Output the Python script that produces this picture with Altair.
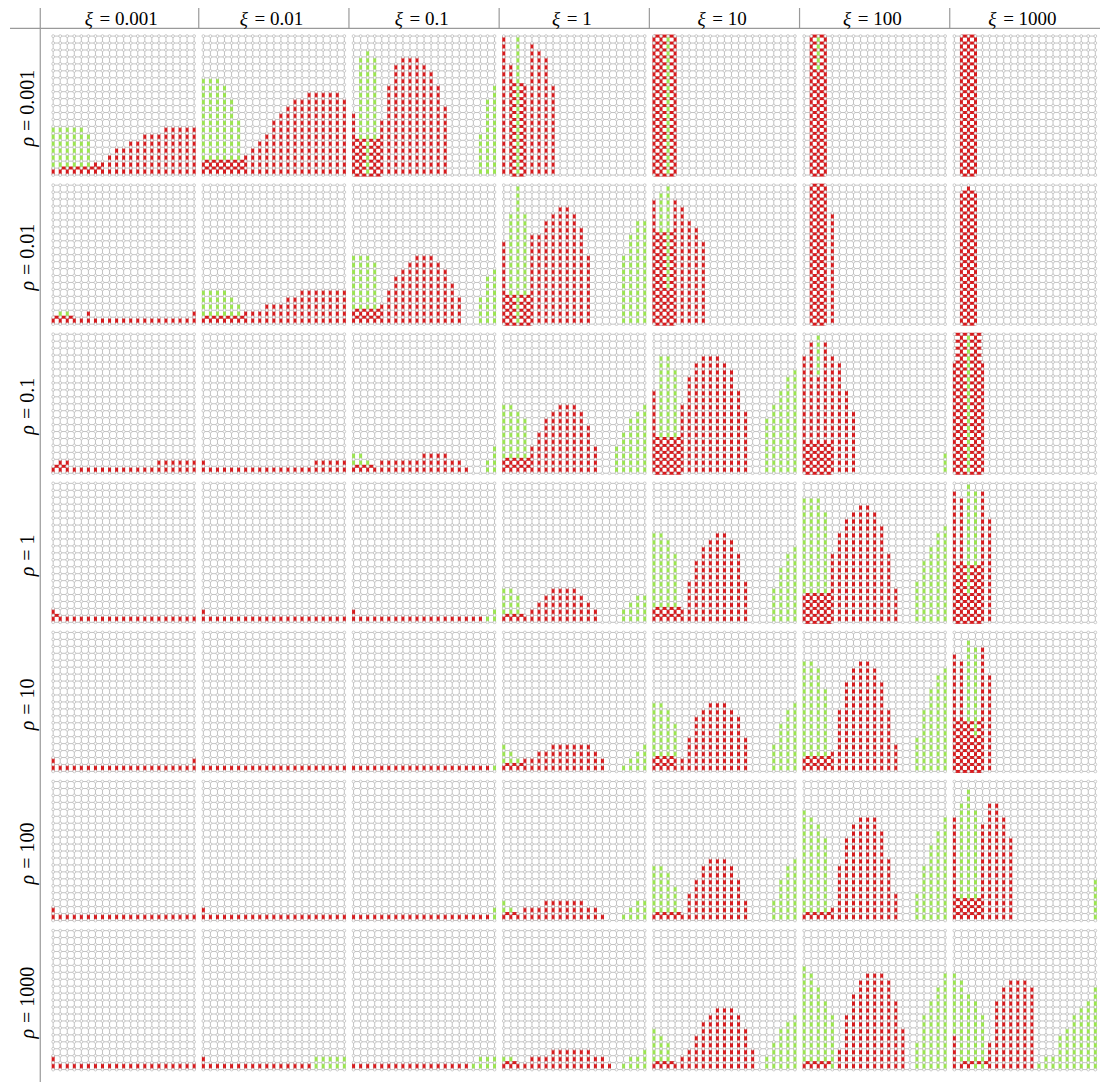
import altair as alt
import pandas as pd

# ---------------- labels ----------------
XI_VALUES = ["0.001", "0.01", "0.1", "1", "10", "100", "1000"]
RHO_VALUES = ["0.001", "0.01", "0.1", "1", "10", "100", "1000"]
N_EDGES = 20  # 21 x 21 lattice nodes per panel

# Column specs per panel (21 tokens, one per lattice column, left->right):
#  "."     nothing coloured
#  "rN"    red vertical edges from row 0 to row N
#  "gN"    green vertical edges from row 0 to row N
#  "gN/B"  red from row 0 to B, green from B to N
#  "tok*k" token repeated k times
# After "|": red horizontal mesh "R0-R1:C0-C1"
RHO_0_001 = [
    "g7/1*5 g6/1 r2 r2 r3 r4 r4 r5 r5 r6 r6 r6 r7*5 | 1:1-7",
    "g14/2*3 g13/2 g11/2 g8/2 r3 r4 r5 r6 r8 r9 r10 r11 r11 r12*5 r11 | 1-2:0-6",
    "r9 g17/5 g18 g17/5 r8 r13 r16 r17 r17 r17 r16 r15 r13 r10 .*4 g6 g11 g13 | 0-5:0-4",
    "r20 r16 g20 r13 r19 r18 r17 r13 .*13 | 0-13:1-3",
    "r20 r20 g20 r20 .*17 | 0-20:0-3",
    ". r20 g20/15 r20 .*17 | 0-20:1-3",
    ". r20 r20 r20 .*17 | 0-20:1-3",
]
RHO_0_01 = [
    "r1 g2/1 g2/1 r1 r1 r2 r1*14 r2 | 1:0-3",
    "g5/1*4 g4/1 g3/1 r2 r2 r2 r3 r3 r3 r4 r4 r5*7 | 1:0-6",
    "g10/2*3 g9/2 r3 r5 r7 r8 r9 r10 r10 r10 r9 r8 r6 r4 . . g4 g7 g8 | 1-2:0-4",
    "r12 g16/4 g20 g16/4 r13 r13 r15 r16 r17 r17 r16 r14 r10 .*4 g10 g13 g15 g15 | 0-4:0-4",
    "r18 g19/13 g20/5 r18 r17 r15 r14 r12 .*13 | 0-13:0-3",
    ". r20 r20 r20 r16 .*16 | 0-20:1-3",
    ". r19 r20 r19 .*17 | 0-19:1-3",
]
RHO_0_1 = [
    "r1 r2 r2 r1*12 r2*6 | 1:0-2",
    "r2 r1*15 r2*5",
    "g3/1 g3/1 g2/1 r1 r2*6 r3*4 r2 r2 r1 . . g2 g4 | 1:0-3",
    "g10/2 g10/2 g9/2 g8/2 r4 r6 r8 r9 r10 r10 r10 r9 r7 r4 . . g4 g6 g8 g9 g10 | 1-2:0-4",
    "r12 g17/5 g17/5 g15/5 r10 r14 r16 r17 r17 r17 r16 r15 r12 r9 . . g8 g10 g12 g14 g15 | 0-5:0-4",
    "r17 r19 g20/14 r19 r17 r16 r12 r9 .*12 g3 | 0-4:0-4",
    "r16 r20 g20 r20 r16 .*16 | 0-20:0-4",
]
RHO_1 = [
    "r2 r1*20 | 1:0-1",
    "r2 r1*20",
    "r2 r1*18 g1 g2",
    "g5/1 g5/1 g4/1 r1 r2 r3 r4 r5 r5 r5 r5 r4 r3 r2 . . . g2 g3 g4 g4 | 1:0-3",
    "g13/2 g13/2 g12/2 g10/2 r2 r6 r9 r11 r12 r13 r13 r12 r10 r6 . . . g5 g8 g10 g11 | 1-2:0-4",
    "g18/4 g18/4 g18/4 g16/4 r10 r13 r15 r16 r17 r17 r16 r14 r10 r5 . . g6 g9 g11 g13 g14 | 0-4:0-4",
    "r19 r18 g20/4 g19/8 r19 r15 .*15 | 0-8:0-4",
]
RHO_10 = [
    "r2 r1*19 r2",
    "r1*21",
    "r1*20 g1",
    "g4/1 g3/1 g2/1 r2 r2 r3 r3 r4*6 r3 r2 . . g1 g2 g3 g4 | 1:0-3",
    "g10/2 g10/2 g9/2 g7/2 r2 r5 r8 r9 r10 r10 r10 r9 r8 r5 . . . g4 g7 g9 g10 | 1-2:0-3",
    "g16/2 g16/2 g15/2 g12/2 r3 r9 r13 r15 r16 r16 r15 r13 r9 r4 . . g5 g9 g12 g14 g15 | 1-2:0-4",
    "r17 r16 g19/7 g18/5 r18 r14 .*15 | 0-7:0-4",
]
RHO_100 = [
    "r2 r1*20",
    "r2 r1*20",
    "r1*20 g2",
    "g3/1 g2/1 r1 r2 r2 r2 r3*6 r2 r2 r1 . . g1 g2 g3 g3 | 1:0-2",
    "g8/1 g8/1 g7/1 g5/1 r1 r4 r6 r8 r9 r9 r9 r8 r6 r3 . . . g3 g6 g8 g9 | 1:0-4",
    "g16/1 g15/1 g14/1 g12/1 r2 r8 r12 r14 r15 r15 r15 r13 r9 r4 . . g4 g8 g11 g13 g15 | 1:0-4",
    "r15 g17/3 g19/3 g16/3 r14 r17 r17 r15 r12 .*11 g6 | 1-3:0-4",
]
RHO_1000 = [
    "r2 r1*20",
    "r2 r1*15 g2*5",
    "r1*17 g1 g2 g2 g2",
    "g2/1 g2/1 r1 r1 r2 r2 r2 r3*6 r2 r2 r1 . g1 g2 g2 g3 | 1:0-2",
    "g6/1 g5/1 g4/1 r1 r2 r3 r5 r7 r8 r9 r9 r9 r8 r6 r3 . g2 g4 g6 g7 g8 | 1:0-3",
    "g15/1 g14/1 g12/1 g10/1 g8 r3 r8 r11 r13 r14 r14 r14 r13 r10 r6 . g4 g8 g10 g12 g14 | 1:0-4",
    "g14/5 g13/1 g11/1 g10 g8 r4 r10 r12 r13 r13 r13 r12 g1 g2 g2 g5 g6 g8 g9 g10 g12 | 1:1-5",
]
PANEL_ROWS = [RHO_0_001, RHO_0_01, RHO_0_1, RHO_1, RHO_10, RHO_100, RHO_1000]

# ---------------- style / layout ----------------
RED = "#d7191c"
GREEN = "#9be64f"
GRID = "#c4c4c4"
NODE_STROKE = "#b8b8b8"
SEP = "#9a9a9a"
FONT = "Liberation Serif"
FS = 20
FS_HEAD = 19

W, H = 1092, 1074          # drawable area inside the 8px page margin
REF_W, REF_H = 1100, 1082  # reference extent being mapped into it
PPU_X, PPU_Y = 7.1, 7.0
PITCH_X = 151.3 / PPU_X
PITCH_Y = 150.2 / PPU_Y
XMIN = -(53.5 - 8) / PPU_X
XMAX = XMIN + REF_W / PPU_X
YMAX = N_EDGES + (36.3 - 8) / PPU_Y
YMIN = YMAX - REF_H / PPU_Y
SX = W / (XMAX - XMIN)     # effective px per unit
SY = H / (YMAX - YMIN)


def expand(tokens):
    out = []
    for t in tokens:
        if "*" in t:
            a, n = t.rsplit("*", 1)
            out += [a] * int(n)
        else:
            out.append(t)
    return (out + ["."] * 21)[:21]


def rng(s):
    if "-" in s:
        a, b = s.split("-")
        return int(a), int(b)
    return int(s), int(s)


grid_rows, seg_h, seg_r, seg_g, node_rows = [], [], [], [], []
for i, row in enumerate(PANEL_ROWS):
    for j, spec in enumerate(row):
        ox = j * PITCH_X
        oy = -i * PITCH_Y
        for k in range(N_EDGES + 1):
            grid_rows.append(dict(x=ox + k, x2=ox + k, y=oy, y2=oy + N_EDGES))
            grid_rows.append(dict(x=ox, x2=ox + N_EDGES, y=oy + k, y2=oy + k))
            for r in range(N_EDGES + 1):
                node_rows.append(dict(x=ox + k, y=oy + r))
        colpart, _, meshpart = spec.partition("|")
        for c, t in enumerate(expand(colpart.split())):
            if t == ".":
                continue
            kind, body = t[0], t[1:]
            if "/" in body:
                top, base = map(int, body.split("/"))
            else:
                top, base = int(body), 0
            if kind == "r":
                seg_r.append(dict(x=ox + c, x2=ox + c, y=oy, y2=oy + top, state="red"))
            else:
                if base > 0:
                    seg_r.append(dict(x=ox + c, x2=ox + c, y=oy, y2=oy + base, state="red"))
                seg_g.append(dict(x=ox + c, x2=ox + c, y=oy + base, y2=oy + top, state="green"))
        for m in meshpart.split():
            rr, cc = m.split(":")
            r0, r1 = rng(rr)
            c0, c1 = rng(cc)
            for r in range(r0, r1 + 1):
                seg_h.append(dict(x=ox + c0, x2=ox + c1, y=oy + r, y2=oy + r, state="red"))

grid_df = pd.DataFrame(grid_rows)
seg_df = pd.DataFrame(seg_h + seg_r + seg_g)
node_df = pd.DataFrame(node_rows)

xs = alt.Scale(domain=[XMIN, XMAX], nice=False, zero=False)
ys = alt.Scale(domain=[YMIN, YMAX], nice=False, zero=False)
X = alt.X("x:Q", scale=xs, axis=None)
Y = alt.Y("y:Q", scale=ys, axis=None)


def enc_rule(ch):
    return ch.encode(x=X, x2="x2:Q", y=Y, y2="y2:Q")


grid = enc_rule(alt.Chart(grid_df).mark_rule(color=GRID, strokeWidth=1))
segs = enc_rule(alt.Chart(seg_df).mark_rule(strokeWidth=3)).encode(
    color=alt.Color("state:N", scale=alt.Scale(domain=["red", "green"], range=[RED, GREEN]), legend=None)
)
nodes = alt.Chart(node_df).mark_circle(
    size=8, fill="white", fillOpacity=1, opacity=1, stroke=NODE_STROKE, strokeWidth=0.7
).encode(x=X, y=Y)

# ---------------- labels (italic symbol + upright "= value") ----------------
CW = {"0": 0.5, "1": 0.5, ".": 0.25, " ": 0.25, "=": 0.564}


def sym_w(fs):
    return 0.78 * fs  # italic greek letter + following space


def rest_w(v, fs):
    return sum(CW.get(ch, 0.5) for ch in "=  " + v) * fs


head_sym, head_rest = [], []
for j, v in enumerate(XI_VALUES):
    total = sym_w(FS_HEAD) + rest_w(v, FS_HEAD)
    cx = j * PITCH_X + N_EDGES / 2
    left = cx - total / 2 / SX
    yy = YMAX - (25.5 - 8) / PPU_Y
    head_sym.append(dict(x=left, y=yy, label="ξ"))
    head_rest.append(dict(x=left + sym_w(FS_HEAD) / SX, y=yy, label="=  " + v))

row_sym, row_rest = [], []
for i, v in enumerate(RHO_VALUES):
    total = sym_w(FS) + rest_w(v, FS)
    cy = -i * PITCH_Y + N_EDGES / 2
    bottom = cy - total / 2 / SY
    xx = XMIN + 20 / PPU_X
    row_sym.append(dict(x=xx, y=bottom, label="ρ"))
    row_rest.append(dict(x=xx, y=bottom + sym_w(FS) / SY, label="=  " + v))


def txt(rows, italic, fs, angle=0, baseline="middle"):
    kw = dict(font=FONT, fontSize=fs, baseline=baseline, align="left", color="black")
    if italic:
        kw["fontStyle"] = "italic"
    if angle:
        kw["angle"] = angle
    return alt.Chart(pd.DataFrame(rows)).mark_text(**kw).encode(x=X, y=Y, text="label:N")


texts = [txt(head_sym, True, FS_HEAD, baseline="alphabetic"),
         txt(head_rest, False, FS_HEAD, baseline="alphabetic"),
         txt(row_sym, True, FS, 270), txt(row_rest, False, FS, 270)]

# ---------------- separator lines ----------------
hline_y = YMAX - 20.5 / PPU_Y
sep_rows = [dict(x=XMIN + 2 / PPU_X, x2=XMAX, y=hline_y, y2=hline_y),
            dict(x=XMIN + 32.5 / PPU_X, x2=XMIN + 32.5 / PPU_X, y=YMIN, y2=YMAX)]
for j in range(1, 7):
    xx = j * PITCH_X - (PITCH_X - N_EDGES) / 2
    sep_rows.append(dict(x=xx, x2=xx, y=hline_y, y2=YMAX))
seps = enc_rule(alt.Chart(pd.DataFrame(sep_rows)).mark_rule(color=SEP, strokeWidth=1.2))

chart = alt.layer(grid, segs, nodes, seps, *texts).properties(
    width=W, height=H, padding=0, autosize=alt.AutoSizeParams(type="none")
).configure_view(stroke=None)

chart.save("out.html", embed_options={"renderer": "svg", "actions": False})
